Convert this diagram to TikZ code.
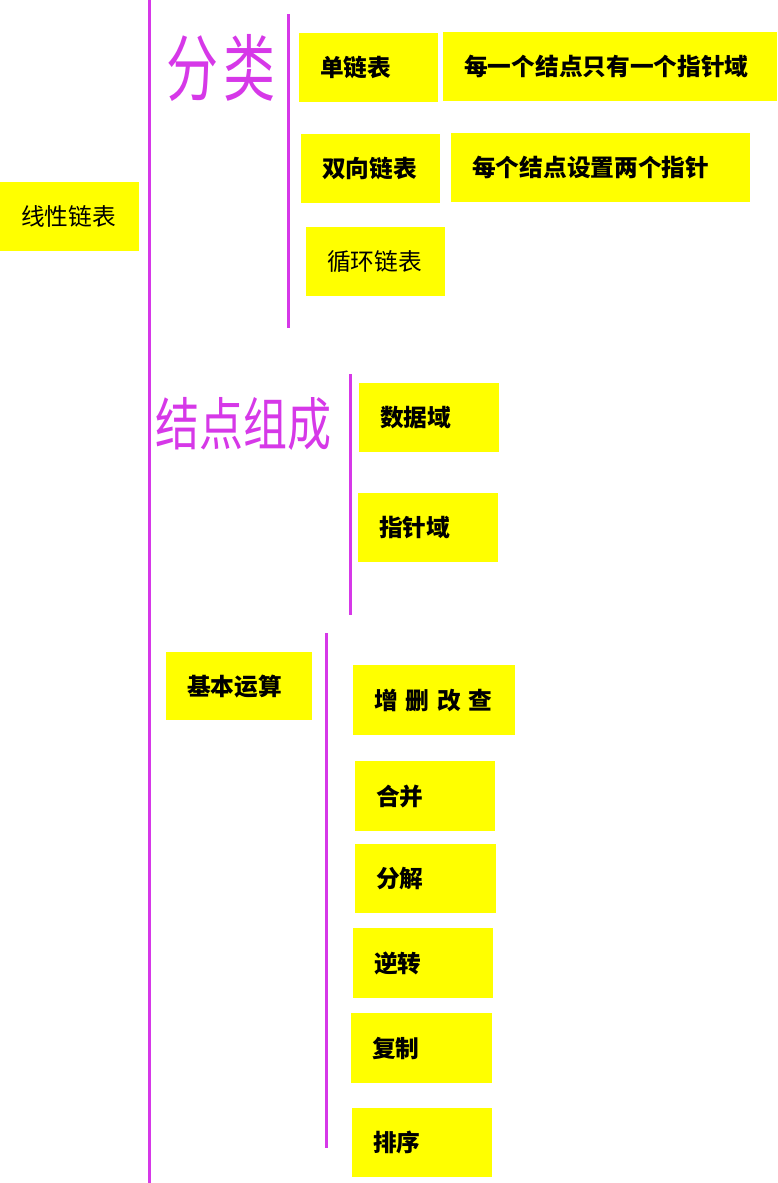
\documentclass[tikz,border=0pt]{standalone}
\usepackage{graphicx}
\usepackage{fontspec}
\setmainfont{Noto Sans CJK SC}
\usetikzlibrary{positioning}
\definecolor{penpink}{RGB}{214,56,232}
\definecolor{notey}{RGB}{255,255,0}

\begin{document}
\begin{tikzpicture}[x=1pt, y=-1pt,
        note/.style={fill=notey, anchor=north west, minimum height=69pt, inner xsep=21pt, inner ysep=0pt, text width=#1-42pt, align=left, font=\fontsize{23.7}{26}\selectfont},
        bnote/.style={note=#1, font=\fontsize{23.7}{26}\selectfont\bfseries},
        pen/.style={draw=penpink, line width=3pt},
        hand/.style={text=penpink, inner sep=0pt, font=\fontsize{#1}{#1}\selectfont}]
        \useasboundingbox (0,0) rectangle (777,1183);

        \node[note=139] (xxlb) at (0,182) {线性链表};

        \node[hand=52] (fenlei) at (221,68) {\scalebox{1}[1.4]{分\hspace{6pt}类}};
        \node[bnote=139] (dlb) at (299,33) {单链表};
        \node[bnote=334] (dlbd) at (443,32) {每一个结点只有一个指针域};
        \node[bnote=139] (sxlb) at (301,134) {双向链表};
        \node[bnote=299] (sxlbd) at (451,133) {每个结点设置两个指针};
        \node[note=139] (xhlb) at (306,227) {循环链表};

        \node[hand=44] (jdzc) at (243,424) {\scalebox{1}[1.3]{结点组成}};
        \node[bnote=140] (sjy) at (359,383) {数据域};
        \node[bnote=140] (zzy) at (358,493) {指针域};

        \node[bnote=146, minimum height=68pt] (jbys) at (166,652) {基本运算};
        \node[bnote=162, minimum height=70pt] (zscc) at (353,665) {增 删 改 查};
        \node[bnote=140, minimum height=70pt] (hb) at (355,761) {合并};
        \node[bnote=141] (fj) at (355,844) {分解};
        \node[bnote=140, minimum height=70pt] (nz) at (353,928) {逆转};
        \node[bnote=141, minimum height=70pt] (fz) at (351,1013) {复制};
        \node[bnote=140] (px) at (352,1108) {排序};

        \coordinate (main top) at (149,0);
        \coordinate (main bot) at (149,1183);
        \coordinate (fl top) at (288,14);
        \coordinate (fl bot) at (288,328);
        \coordinate (zc top) at (350,374);
        \coordinate (zc bot) at (350,615);
        \coordinate (ys top) at (326,633);
        \coordinate (ys bot) at (326,1148);

        \draw[pen] (main top) -- (main bot);
        \draw[pen] (fl top) -- (fl bot);
        \draw[pen] (zc top) -- (zc bot);
        \draw[pen] (ys top) -- (ys bot);
    \end{tikzpicture}
\end{document}
